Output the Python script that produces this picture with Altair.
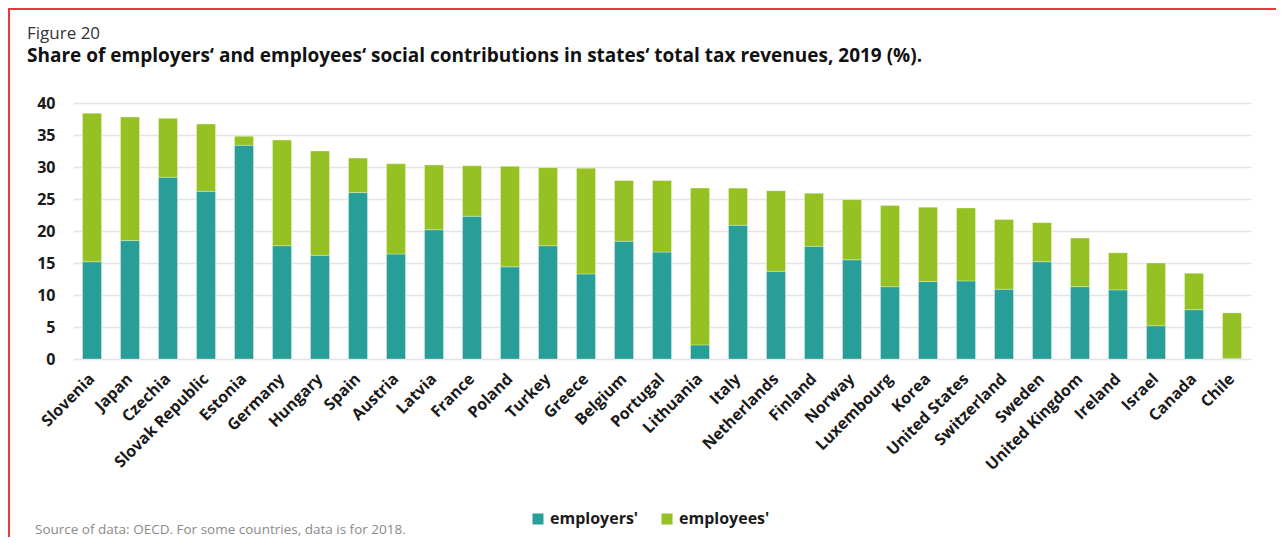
import altair as alt
import pandas as pd

countries = ["Slovenia", "Japan", "Czechia", "Slovak Republic", "Estonia", "Germany",
             "Hungary", "Spain", "Austria", "Latvia", "France", "Poland", "Turkey",
             "Greece", "Belgium", "Portugal", "Lithuania", "Italy", "Netherlands",
             "Finland", "Norway", "Luxembourg", "Korea", "United States", "Switzerland",
             "Sweden", "United Kingdom", "Ireland", "Israel", "Canada", "Chile"]
employers = [15.2, 18.5, 28.4, 26.2, 33.4, 17.7, 16.2, 26.0, 16.4, 20.2, 22.3, 14.4, 17.7,
             13.3, 18.4, 16.7, 2.2, 20.9, 13.7, 17.6, 15.5, 11.3, 12.1, 12.2, 10.9,
             15.2, 11.3, 10.8, 5.2, 7.7, 0.1]
employees = [23.2, 19.3, 9.2, 10.5, 1.4, 16.5, 16.3, 5.4, 14.1, 10.1, 7.9, 15.7, 12.2,
             16.5, 9.5, 11.2, 24.5, 5.8, 12.6, 8.3, 9.4, 12.7, 11.6, 11.4, 10.9,
             6.1, 7.6, 5.8, 9.8, 5.7, 7.1]
series = ["employers'", "employees'"]
colors = ["#279e98", "#95c123"]
y_ticks = [0, 5, 10, 15, 20, 25, 30, 35, 40]

title_text = "Figure 20"
subtitle_text = "Share of employers\u2018 and employees\u2018 social contributions in states\u2018 total tax revenues, 2019 (%)."
source_text = "Source of data: OECD. For some countries, data is for 2018."

rows = []
for c, a, b in zip(countries, employers, employees):
    rows.append({"country": c, "type": series[0], "value": a, "ord": 0})
    rows.append({"country": c, "type": series[1], "value": b, "ord": 1})
df = pd.DataFrame(rows)

FONT = "Open Sans"

bars = alt.Chart(df).mark_bar(stroke="white", strokeWidth=0.7, strokeOpacity=0.45).encode(
    x=alt.X("country:N", sort=countries,
            scale=alt.Scale(paddingInner=0.5, paddingOuter=0.25),
            axis=alt.Axis(title=None, labelAngle=-45, labelAlign="right", labelBaseline="middle",
                          labelFont=FONT, labelFontWeight="bold", labelFontSize=16,
                          labelColor="#1a1a1a", labelPadding=17, labelOffset=0,
                          ticks=False, domain=False, grid=False, labelLimit=300)),
    y=alt.Y("value:Q", stack="zero",
            scale=alt.Scale(domain=[0, 40], nice=False),
            axis=alt.Axis(title=None, values=y_ticks, grid=True, gridColor="#e4e4e4",
                          gridWidth=1.5, ticks=False, domain=False, labelFont=FONT,
                          labelFontSize=16, labelFontWeight="bold", labelColor="#1a1a1a",
                          labelPadding=18)),
    color=alt.Color("type:N", scale=alt.Scale(domain=series, range=colors),
                    legend=alt.Legend(title=None, orient="none", legendX=457, legendY=408,
                                      direction="horizontal", symbolType="square",
                                      symbolSize=121, symbolStrokeWidth=0,
                                      labelFont=FONT, labelFontSize=16, labelFontWeight="bold",
                                      labelColor="#1a1a1a", labelOffset=4, columnPadding=20,
                                      padding=0)),
    order=alt.Order("ord:Q", sort="ascending"),
)

one = alt.Data(values=[{"a": 1}])
frame_top = alt.Chart(one).mark_rule(color="#e8373e", strokeWidth=2).encode(
    x=alt.value(-65), x2=alt.value(1203), y=alt.value(-94))
frame_left = alt.Chart(one).mark_rule(color="#e8373e", strokeWidth=2).encode(
    x=alt.value(-64), y=alt.value(-95), y2=alt.value(434))
source = alt.Chart(alt.Data(values=[{"t": source_text}])).mark_text(
    align="left", baseline="alphabetic", font=FONT, fontSize=13.5, color="#8a8a8a").encode(
    x=alt.value(-38), y=alt.value(431), text="t:N")

chart = alt.layer(bars, frame_top, frame_left, source).properties(
    width=1178, height=256,
    title=alt.TitleParams(text=title_text, subtitle=subtitle_text, anchor="start",
                          frame="group", dx=-46, offset=-60, font=FONT, fontSize=17,
                          fontWeight="normal", color="#333333", subtitleFont=FONT,
                          subtitleFontSize=19, subtitleFontWeight="bold",
                          subtitleColor="#111111", subtitlePadding=4),
    autosize=alt.AutoSizeParams(type="none"),
    padding={"left": 65, "top": 95, "right": 25, "bottom": 178},
).configure_view(stroke=None)

chart.save("out.html", embed_options={"renderer": "svg", "actions": False})
